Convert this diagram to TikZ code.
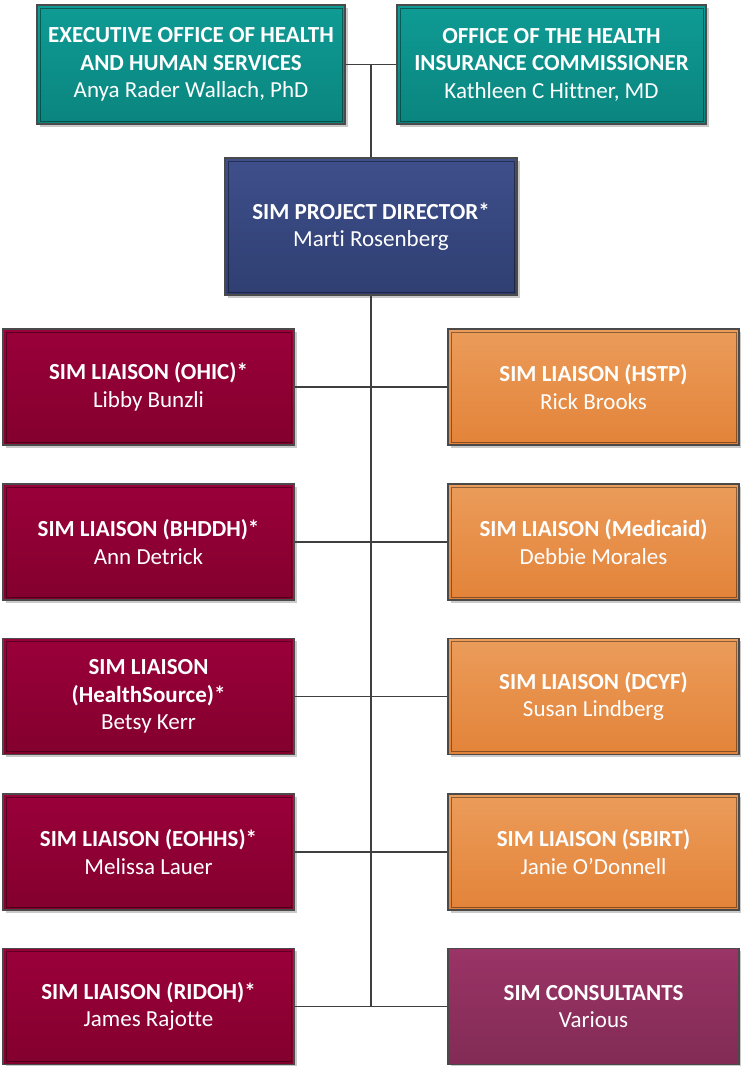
\documentclass[tikz,border=0pt]{standalone}
\usepackage{fontspec}
\setmainfont{Carlito}[Ligatures=NoCommon]
\usetikzlibrary{shadows}
\definecolor{tealT}{HTML}{0F9B95}
\definecolor{tealB}{HTML}{0A857E}
\definecolor{navyT}{HTML}{3E4F8B}
\definecolor{navyB}{HTML}{2F3F72}
\definecolor{redT}{HTML}{9A003A}
\definecolor{redB}{HTML}{83002D}
\definecolor{orT}{HTML}{EB9C5A}
\definecolor{orB}{HTML}{E38339}
\definecolor{puT}{HTML}{9A3466}
\definecolor{puB}{HTML}{822B55}
\definecolor{edge}{HTML}{4A4A4A}
\definecolor{conn}{HTML}{3F3F3F}
\begin{document}
\begin{tikzpicture}[x=1pt,y=-1pt,
  box/.style={rectangle, draw=edge, line width=1.2pt, text=white, align=center,
    font=\fontsize{23}{27.5}\selectfont, inner sep=0pt,
    minimum width=291pt, minimum height=116pt,
    drop shadow={shadow xshift=2.5pt, shadow yshift=-2.5pt, opacity=0.35, fill=black!60}},
  tealbox/.style={box, top color=tealT, bottom color=tealB, minimum width=308pt, minimum height=119pt},
  navybox/.style={box, top color=navyT, bottom color=navyB, minimum width=292pt, minimum height=137pt},
  redbox/.style={box, top color=redT, bottom color=redB},
  orbox/.style={box, top color=orT, bottom color=orB},
  pubox/.style={box, top color=puT, bottom color=puB},
  inner/.style={draw=black, draw opacity=0.4, line width=0.7pt},
  link/.style={draw=conn, line width=1.2pt}
]
\useasboundingbox (0,0) rectangle (741,1066);

\node[tealbox] (eohhs) at (191,64.5) {\textbf{EXECUTIVE OFFICE OF HEALTH}\\\textbf{AND HUMAN SERVICES}\\Anya Rader Wallach, PhD};
\node[tealbox, minimum width=309pt] (ohic) at (551.5,64.5) {\textbf{OFFICE OF THE HEALTH}\\\textbf{INSURANCE COMMISSIONER}\\Kathleen C Hittner, MD};
\node[navybox] (dir) at (371,226.5) {\textbf{SIM PROJECT DIRECTOR*}\\Marti Rosenberg};

\node[redbox] (l1) at (148.5,387) {\textbf{SIM LIAISON (OHIC)*}\\Libby Bunzli};
\node[redbox] (l2) at (148.5,542) {\textbf{SIM LIAISON (BHDDH)*}\\Ann Detrick};
\node[redbox] (l3) at (148.5,696.5) {\textbf{SIM LIAISON}\\\textbf{(HealthSource)*}\\Betsy Kerr};
\node[redbox] (l4) at (148.5,852) {\textbf{SIM LIAISON (EOHHS)*}\\Melissa Lauer};
\node[redbox] (l5) at (148.5,1006.5) {\textbf{SIM LIAISON (RIDOH)*}\\James Rajotte};

\node[orbox] (r1) at (593.5,387) {\textbf{SIM LIAISON (HSTP)}\\Rick Brooks};
\node[orbox] (r2) at (593.5,542) {\textbf{SIM LIAISON (Medicaid)}\\Debbie Morales};
\node[orbox] (r3) at (593.5,696.5) {\textbf{SIM LIAISON (DCYF)}\\Susan Lindberg};
\node[orbox] (r4) at (593.5,852) {\textbf{SIM LIAISON (SBIRT)}\\Janie O’Donnell};
\node[pubox] (r5) at (593.5,1006.5) {\textbf{SIM CONSULTANTS}\\Various};

\foreach \n in {eohhs,ohic,dir,l1,l2,l3,l4,l5,r1,r2,r3,r4}
  \draw[inner] ([shift={(3.5,3.5)}]\n.north west) rectangle ([shift={(-3.5,-3.5)}]\n.south east);

\coordinate (top) at (371,65);
\coordinate (bottom) at (371,1006.5);
\draw[link] (eohhs.east) -- (ohic.west);
\draw[link] (top) -- (dir.north);
\draw[link] (dir.south) -- (bottom);
\foreach \i in {1,...,5}
  \draw[link] (l\i.east) -- (r\i.west);
\end{tikzpicture}
\end{document}
